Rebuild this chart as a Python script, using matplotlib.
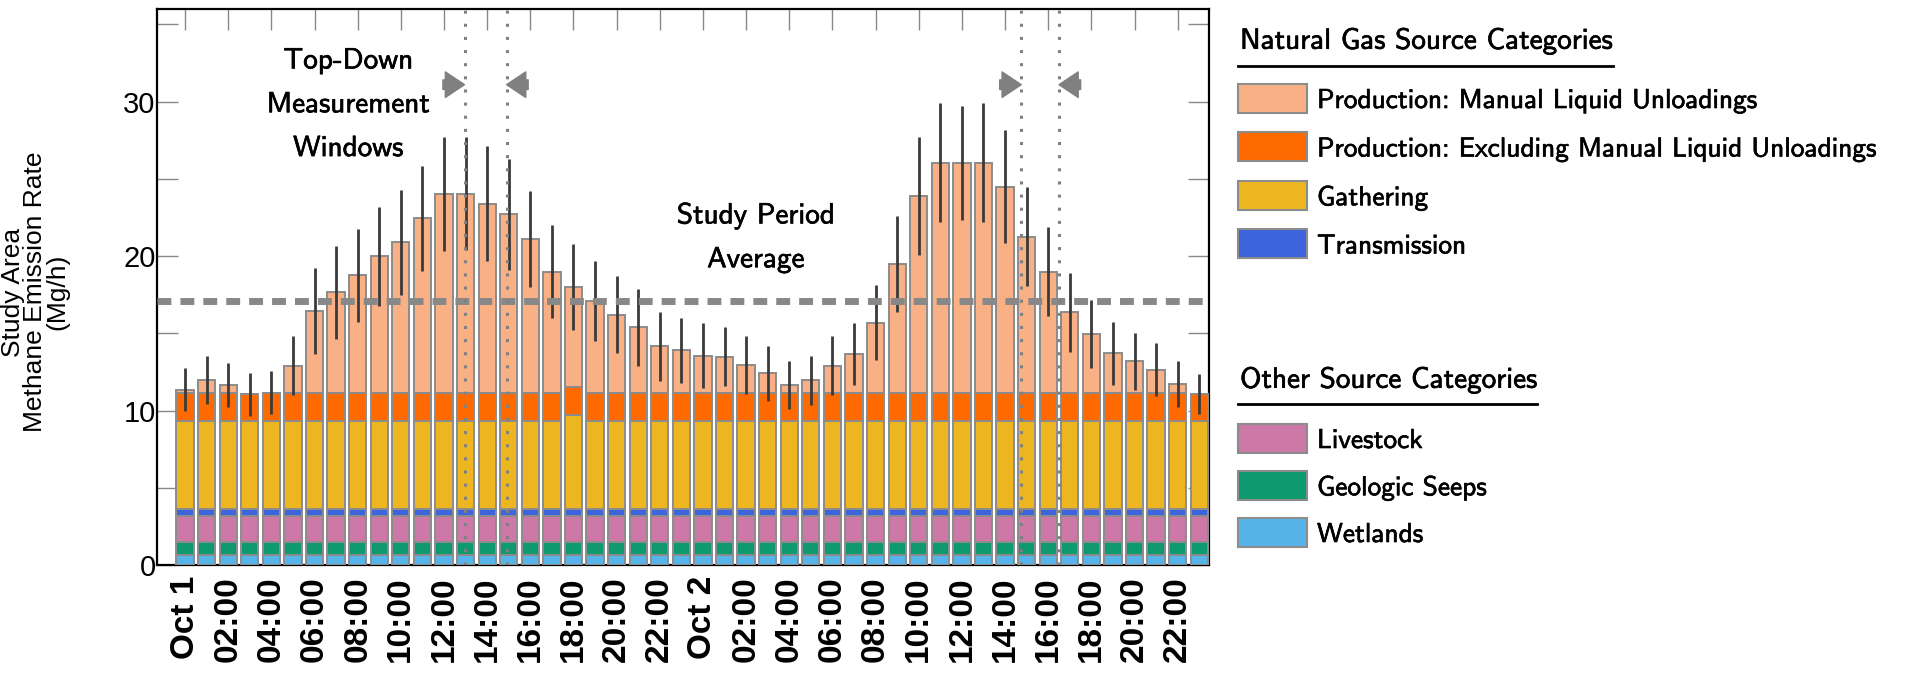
import matplotlib
matplotlib.use("Agg")
import numpy as np
import matplotlib.pyplot as plt
import matplotlib.patheffects as pe
from matplotlib.patches import Rectangle
from matplotlib.lines import Line2D

# hourly bars, Oct 1 00:00 .. Oct 2 23:00
hours = np.arange(48)
tick_labels = ['Oct 1', '02:00', '04:00', '06:00', '08:00', '10:00', '12:00', '14:00',
               '16:00', '18:00', '20:00', '22:00',
               'Oct 2', '02:00', '04:00', '06:00', '08:00', '10:00', '12:00', '14:00',
               '16:00', '18:00', '20:00', '22:00']

# stacked emission components (Mg/h), bottom to top
wetlands = [0.65, 0.65, 0.65, 0.65, 0.65, 0.65, 0.65, 0.65, 0.65, 0.65, 0.65, 0.65,
            0.65, 0.65, 0.65, 0.65, 0.65, 0.65, 0.65, 0.65, 0.65, 0.65, 0.65, 0.65,
            0.65, 0.65, 0.65, 0.65, 0.65, 0.65, 0.65, 0.65, 0.65, 0.65, 0.65, 0.65,
            0.65, 0.65, 0.65, 0.65, 0.65, 0.65, 0.65, 0.65, 0.65, 0.65, 0.65, 0.65]
seeps = [0.83, 0.83, 0.83, 0.83, 0.83, 0.83, 0.83, 0.83, 0.83, 0.83, 0.83, 0.83,
         0.83, 0.83, 0.83, 0.83, 0.83, 0.83, 0.83, 0.83, 0.83, 0.83, 0.83, 0.83,
         0.83, 0.83, 0.83, 0.83, 0.83, 0.83, 0.83, 0.83, 0.83, 0.83, 0.83, 0.83,
         0.83, 0.83, 0.83, 0.83, 0.83, 0.83, 0.83, 0.83, 0.83, 0.83, 0.83, 0.83]
livestock = [1.67, 1.67, 1.67, 1.67, 1.67, 1.67, 1.67, 1.67, 1.67, 1.67, 1.67, 1.67,
             1.67, 1.67, 1.67, 1.67, 1.67, 1.67, 1.67, 1.67, 1.67, 1.67, 1.67, 1.67,
             1.67, 1.67, 1.67, 1.67, 1.67, 1.67, 1.67, 1.67, 1.67, 1.67, 1.67, 1.67,
             1.67, 1.67, 1.67, 1.67, 1.67, 1.67, 1.67, 1.67, 1.67, 1.67, 1.67, 1.67]
transmission = [0.48, 0.48, 0.48, 0.48, 0.48, 0.48, 0.48, 0.48, 0.48, 0.48, 0.48, 0.48,
                0.48, 0.48, 0.48, 0.48, 0.48, 0.48, 0.48, 0.48, 0.48, 0.48, 0.48, 0.48,
                0.48, 0.48, 0.48, 0.48, 0.48, 0.48, 0.48, 0.48, 0.48, 0.48, 0.48, 0.48,
                0.48, 0.48, 0.48, 0.48, 0.48, 0.48, 0.48, 0.48, 0.48, 0.48, 0.48, 0.48]
gathering = [5.72, 5.72, 5.72, 5.72, 5.72, 5.72, 5.72, 5.72, 5.72, 5.72, 5.72, 5.72,
             5.72, 5.72, 5.72, 5.72, 5.72, 5.72, 6.07, 5.72, 5.72, 5.72, 5.72, 5.72,
             5.72, 5.72, 5.72, 5.72, 5.72, 5.72, 5.72, 5.72, 5.72, 5.72, 5.72, 5.72,
             5.72, 5.72, 5.72, 5.72, 5.72, 5.72, 5.72, 5.72, 5.72, 5.72, 5.72, 5.72]
prod_excl = [1.8, 1.8, 1.8, 1.7, 1.8, 1.8, 1.8, 1.8, 1.8, 1.8, 1.8, 1.8,
             1.8, 1.8, 1.8, 1.8, 1.8, 1.8, 1.8, 1.8, 1.8, 1.8, 1.8, 1.8,
             1.8, 1.8, 1.8, 1.8, 1.8, 1.8, 1.8, 1.8, 1.8, 1.8, 1.8, 1.8,
             1.8, 1.8, 1.8, 1.8, 1.8, 1.8, 1.8, 1.8, 1.8, 1.8, 1.8, 1.7]
prod_manual = [0.2, 0.85, 0.5, 0.0, 0.0, 1.75, 5.3, 6.5, 7.6, 8.85, 9.75, 11.3,
               12.85, 12.9, 12.25, 11.55, 9.95, 7.85, 6.5, 5.95, 5.05, 4.25, 3.0, 2.75,
               2.4, 2.35, 1.8, 1.25, 0.5, 0.8, 1.75, 2.5, 4.55, 8.35, 12.75, 14.9,
               14.9, 14.9, 13.35, 10.1, 7.85, 5.2, 3.8, 2.55, 2.05, 1.5, 0.55, 0.0]
# uncertainty (half-width, Mg/h) on the bar totals
err = [1.4, 1.55, 1.45, 1.4, 1.4, 1.9, 2.8, 3.0, 3.0, 3.2, 3.4, 3.4,
       3.7, 3.65, 3.7, 3.6, 3.1, 3.0, 2.8, 2.6, 2.5, 2.5, 2.25, 2.1,
       2.1, 1.9, 1.85, 1.8, 1.55, 1.6, 1.9, 2.0, 2.4, 3.1, 3.8, 3.85,
       3.7, 3.85, 3.65, 3.2, 2.9, 2.55, 2.2, 2.05, 1.85, 1.7, 1.5, 1.3]

study_avg = 17.1
windows = [(12.95, 14.9), (38.75, 40.5)]

ng_labels = ['Production: Manual Liquid Unloadings',
             'Production: Excluding Manual Liquid Unloadings',
             'Gathering', 'Transmission']
ng_colors = ['#F9B084', '#FF6A00', '#EDB520', '#3D63DD']
other_labels = ['Livestock', 'Geologic Seeps', 'Wetlands']
other_colors = ['#CC79A7', '#0E9A6E', '#56B4E9']

W, H = 1917, 673
fig = plt.figure(figsize=(W / 100, H / 100), dpi=100)
# slightly heavier strokes for the sans-serif annotation text
heavy = [pe.withStroke(linewidth=0.45, foreground='black')]


def fx(px):
    return px / W


def fy(py):
    return 1 - py / H


ax = fig.add_axes([fx(157), fy(565), (1209 - 157) / W, (565 - 9) / H])

# stack from the bottom up
layers = [wetlands, seeps, livestock, transmission, gathering, prod_excl, prod_manual]
layer_colors = [other_colors[2], other_colors[1], other_colors[0],
                ng_colors[3], ng_colors[2], ng_colors[1], ng_colors[0]]
bottom = np.zeros(48)
for vals, col in zip(layers, layer_colors):
    vals = np.array(vals)
    ax.bar(hours, vals, bottom=bottom, width=0.8, color=col,
           edgecolor='#8c8c8c', linewidth=1.4, zorder=3)
    bottom = bottom + vals

ax.errorbar(hours, bottom, yerr=err, fmt='none', ecolor='#3a3a3a',
            elinewidth=2.0, capsize=0, zorder=4)

ax.axhline(study_avg, color='#888888', lw=5, ls=(0, (2.0, 1.3)), zorder=5)
arrow_kw = dict(arrowstyle='simple,head_length=0.6,head_width=0.8,tail_width=0.3',
                color='#808080', mutation_scale=23, shrinkA=0, shrinkB=0)
for a, b in windows:
    for xv in (a, b):
        ax.axvline(xv, color='#808080', lw=2.2, ls=(0, (1, 3.3)), zorder=5)
    ax.annotate('', xy=(a, 31.1), xytext=(a - 1.0, 31.1), arrowprops=arrow_kw, zorder=6)
    ax.annotate('', xy=(b, 31.1), xytext=(b + 1.0, 31.1), arrowprops=arrow_kw, zorder=6)

ax.text(7.56, 29.8, 'Top-Down\nMeasurement\nWindows', ha='center', va='center',
        fontsize=21, family='cmss10', linespacing=1.8, path_effects=heavy)
ax.text(26.45, 21.2, 'Study Period\nAverage', ha='center', va='center',
        fontsize=21, family='cmss10', linespacing=1.8, path_effects=heavy)

ax.set_xlim(-1.3, 47.45)
ax.set_ylim(0, 36)
ax.set_yticks([0, 10, 20, 30])
ax.set_yticks([5, 15, 25, 35], minor=True)
ax.set_xticks(hours[::2])
ax.set_xticklabels(tick_labels, rotation=90, fontsize=24, fontweight='bold',
                   family='Liberation Sans')
for lab in ax.get_yticklabels():
    lab.set_family('Liberation Sans')
    lab.set_fontsize(21)
ax.tick_params(axis='both', which='both', direction='in', length=15, width=1,
               color='#888888', top=True, right=True)
ax.tick_params(axis='x', pad=8)
ax.tick_params(axis='y', pad=1)
for sp in ax.spines.values():
    sp.set_linewidth(1.6)
    sp.set_color('black')

fig.text(fx(35), fy(292), 'Study Area\nMethane Emission Rate\n(Mg/h)', rotation=90,
         ha='center', va='center', fontsize=19, family='Liberation Sans',
         linespacing=0.92)

# hand-built legend with underlined group titles
t1 = fig.text(fx(1240), fy(41), 'Natural Gas Source Categories', ha='left',
              va='center', fontsize=21, family='cmss10', path_effects=heavy)
t2 = fig.text(fx(1240), fy(380), 'Other Source Categories', ha='left',
              va='center', fontsize=21, family='cmss10', path_effects=heavy)


def legend_rows(labels, colors, y0, step):
    for i, (lab, col) in enumerate(zip(labels, colors)):
        yc = y0 + i * step
        fig.add_artist(Rectangle((fx(1238), fy(yc + 14.5)), 69 / W, 29 / H,
                                 transform=fig.transFigure, facecolor=col,
                                 edgecolor='#8c8c8c', linewidth=1.5))
        fig.text(fx(1317), fy(yc), lab, ha='left', va='center_baseline',
                 fontsize=19.7, family='cmss10', path_effects=heavy)


legend_rows(ng_labels, ng_colors, 98, 48.5)
legend_rows(other_labels, other_colors, 438, 47)

fig.canvas.draw()
for t, yl in ((t1, 66), (t2, 404)):
    bb = t.get_window_extent()
    fig.add_artist(Line2D([fx(1238), bb.x1 / W], [fy(yl), fy(yl)],
                          transform=fig.transFigure, color='black', lw=2))

fig.savefig('out.png', dpi=100)
